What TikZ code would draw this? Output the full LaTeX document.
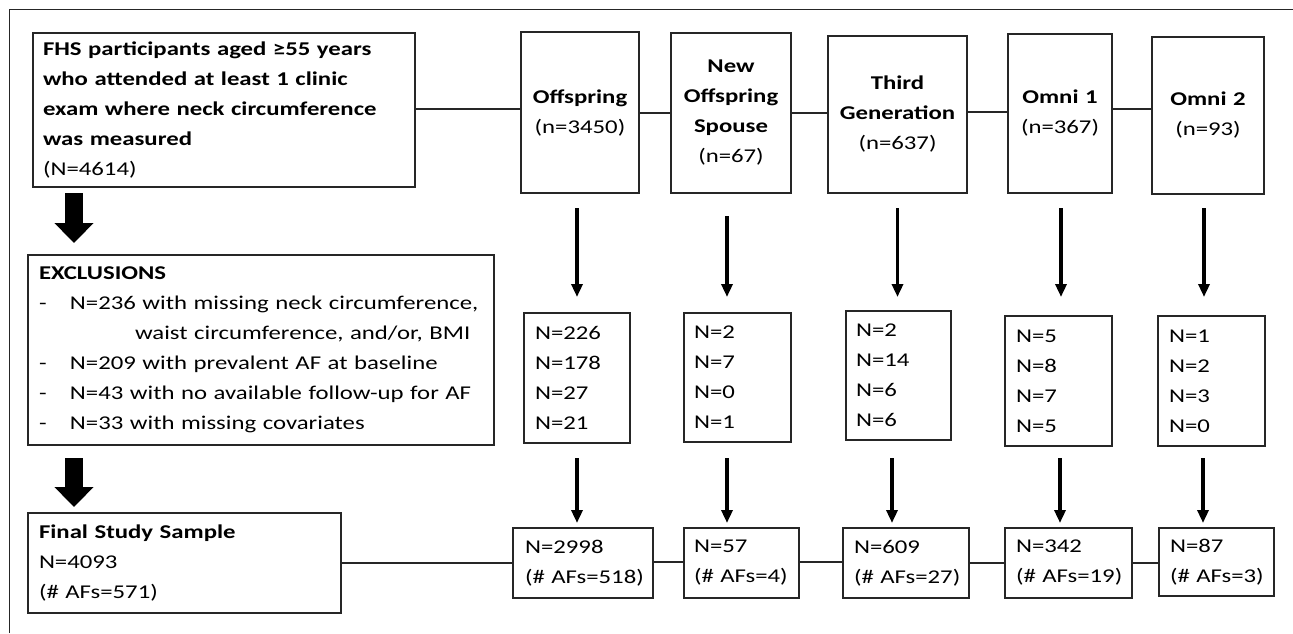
\documentclass[tikz,border=0pt]{standalone}
\usepackage{fontspec}
\setmainfont{Carlito}[FakeStretch=1.27]
\usetikzlibrary{arrows.meta,calc}
\begin{document}
\begin{tikzpicture}[x=1pt,y=-1pt,
  every node/.style={font=\fontsize{19.5}{30}\selectfont},
  box/.style={draw=black!85, line width=1.4pt, inner ysep=0pt, outer sep=0pt, rectangle},
  lbox/.style={box, align=left},
  cbox/.style={box, align=center, inner xsep=0pt},
  link/.style={draw=black!85, line width=1.4pt},
  arr/.style={line width=3.5pt, -{Triangle[width=11pt,length=13pt]}},
  bigarr/.style={line width=18pt, -{Triangle[width=38pt,length=20pt]}}
]
\useasboundingbox (0,0) rectangle (1293,633);
\fill[white] (0,0) rectangle (1293,633);
% outer frame (cut off at right and bottom)
\draw[black!85, line width=1.6pt] (9.3,633) -- (9.3,9.3) -- (1293,9.3);

% left column
\node[lbox, text width=362pt, inner xsep=10pt, minimum height=154pt] (main) at (224,110)
 {\textbf{FHS participants aged ≥55 years}\\
  \textbf{who attended at least 1 clinic}\\
  \textbf{exam where neck circumference}\\
  \textbf{was measured}\\
  (N=4614)};
\node[lbox, text width=444pt, inner xsep=11pt, minimum height=190pt] (excl) at (261,350)
 {\textbf{EXCLUSIONS}\\
  \makebox[31pt][l]{-}N=236 with missing neck circumference,\\
  \hspace*{96pt}waist circumference, and/or, BMI\\
  \makebox[31pt][l]{-}N=209 with prevalent AF at baseline\\
  \makebox[31pt][l]{-}N=43 with no available follow-up for AF\\
  \makebox[31pt][l]{-}N=33 with missing covariates};
\node[lbox, text width=291pt, inner xsep=11pt, minimum height=100pt] (final) at (184.5,563)
 {\textbf{Final Study Sample}\\N=4093\\(\#~AFs=571)};

% top row
\node[cbox, text width=118pt, minimum height=161pt] (offT) at (580,112.5)
 {\textbf{Offspring}\\(n=3450)};
\node[cbox, text width=120pt, minimum height=160pt] (nosT) at (731,113)
 {\textbf{New}\\\textbf{Offspring}\\\textbf{Spouse}\\(n=67)};
\node[cbox, text width=139pt, minimum height=157pt] (thirdT) at (897.5,114.5)
 {\textbf{Third}\\\textbf{Generation}\\(n=637)};
\node[cbox, text width=104pt, minimum height=159pt] (om1T) at (1060,113.5)
 {\textbf{Omni 1}\\(n=367)};
\node[cbox, text width=112pt, minimum height=157pt] (om2T) at (1208,115.5)
 {\textbf{Omni 2}\\(n=93)};

% middle row
\node[lbox, text width=84pt, inner xsep=11pt, minimum height=130pt] (offM) at (577,378)
 {N=226\\N=178\\N=27\\N=21};
\node[lbox, text width=87pt, inner xsep=10pt, minimum height=129pt] (nosM) at (737.5,377.5)
 {N=2\\N=7\\N=0\\N=1};
\node[lbox, text width=85pt, inner xsep=10pt, minimum height=129pt] (thirdM) at (898.5,375.5)
 {N=2\\N=14\\N=6\\N=6};
\node[lbox, text width=85pt, inner xsep=11pt, minimum height=130pt] (om1M) at (1058.5,381)
 {N=5\\N=8\\N=7\\N=5};
\node[lbox, text width=85pt, inner xsep=11pt, minimum height=130pt] (om2M) at (1211.5,381)
 {N=1\\N=2\\N=3\\N=0};

% bottom row
\node[lbox, text width=116pt, inner xsep=12pt, minimum height=70pt] (offB) at (583,563)
 {N=2998\\(\#~AFs=518)};
\node[lbox, text width=95pt, inner xsep=10pt, minimum height=70pt] (nosB) at (741.5,563)
 {N=57\\(\#~AFs=4)};
\node[lbox, text width=104pt, inner xsep=11pt, minimum height=70pt] (thirdB) at (906,563)
 {N=609\\(\#~AFs=27)};
\node[lbox, text width=105pt, inner xsep=11pt, minimum height=70pt] (om1B) at (1068.5,563)
 {N=342\\(\#~AFs=19)};
\node[lbox, text width=93pt, inner xsep=11pt, minimum height=68pt] (om2B) at (1216.5,562)
 {N=87\\(\#~AFs=3)};

% horizontal links, top
\draw[link] (main.east |- 0,109) -- (offT.west |- 0,109);
\draw[link] (offT.east |- 0,113) -- (nosT.west |- 0,113);
\draw[link] (nosT.east |- 0,113) -- (thirdT.west |- 0,113);
\draw[link] (thirdT.east |- 0,112) -- (om1T.west |- 0,112);
\draw[link] (om1T.east |- 0,109) -- (om2T.west |- 0,109);

% horizontal links, bottom
\draw[link] (final.east) -- (final.east -| offB.west);
\draw[link] (offB.east |- 0,562) -- (nosB.west |- 0,562);
\draw[link] (nosB.east |- 0,562) -- (thirdB.west |- 0,562);
\draw[link] (thirdB.east |- 0,563) -- (om1B.west |- 0,563);
\draw[link] (om1B.east |- 0,563) -- (om2B.west |- 0,563);

% arrows top -> middle
\draw[arr] ($(offT.south -| offM.north)+(0,15)$) -- ($(offM.north)+(0,-16)$);
\draw[arr] ($(nosT.south -| nosM.north)+(-10.5,23)$) -- ($(nosM.north)+(-10.5,-16)$);
\draw[arr] ($(thirdT.south)+(0,15)$) -- ($(thirdT.south |- thirdM.north)+(0,-14)$);
\draw[arr] ($(om1T.south)+(1,15)$) -- ($(om1T.south |- om1M.north)+(1,-19)$);
\draw[arr] ($(om2T.south)+(-4,14)$) -- ($(om2T.south |- om2M.north)+(-4,-19)$);

% arrows middle -> bottom
\draw[arr] ($(offM.south)+(0,15)$) -- ($(offM.south |- offB.north)+(0,-5)$);
\draw[arr] ($(nosM.south)+(-10.5,16)$) -- ($(nosM.south |- nosB.north)+(-10.5,-5)$);
\draw[arr] ($(thirdM.south)+(-6.5,18)$) -- ($(thirdM.south |- thirdB.north)+(-6.5,-5)$);
\draw[arr] ($(om1M.south)+(1.5,12)$) -- ($(om1M.south |- om1B.north)+(1.5,-5)$);
\draw[arr] ($(om2M.south)+(-8.5,12)$) -- ($(om2M.south |- om2B.north)+(-8.5,-5)$);

% big arrows, left column
\coordinate (bx) at (74,0);
\draw[bigarr] ($(main.south -| bx)+(0,6)$) -- ($(excl.north -| bx)+(0,-12)$);
\draw[bigarr] ($(excl.south -| bx)+(0,13)$) -- ($(final.north -| bx)+(0,-6)$);
\end{tikzpicture}
\end{document}
